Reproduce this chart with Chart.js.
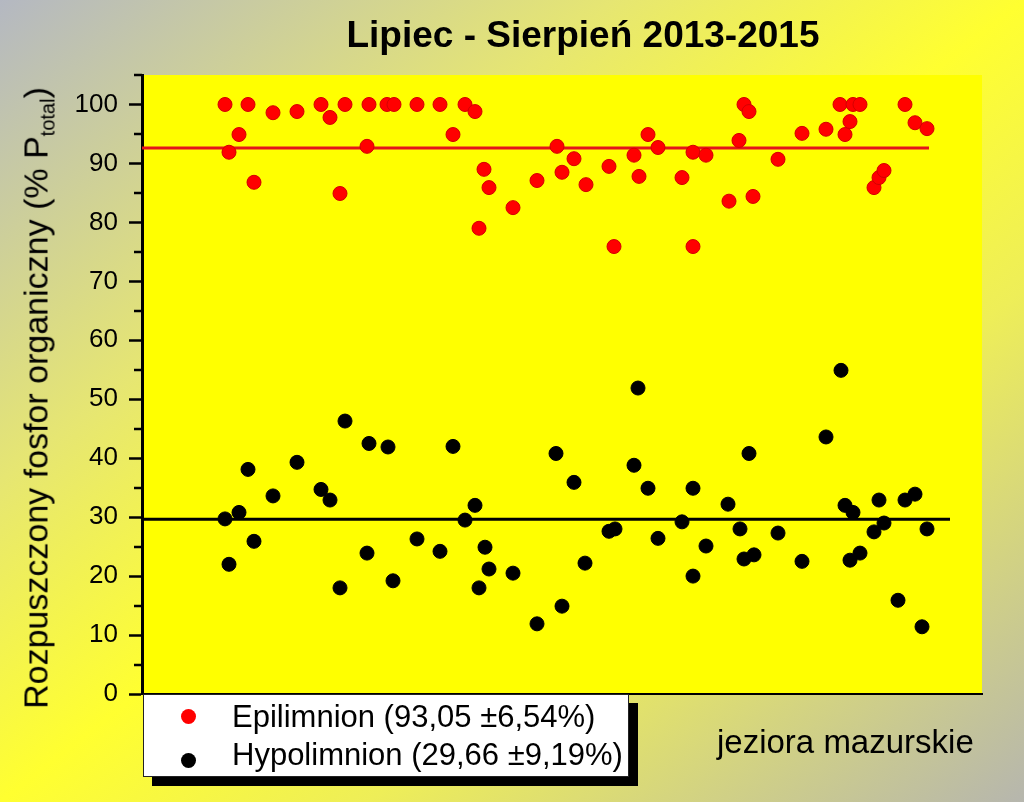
<!DOCTYPE html>
<html>
<head>
<meta charset="utf-8">
<script src="https://cdn.jsdelivr.net/npm/chart.js@4.4.1/dist/chart.umd.min.js"></script>
<style>
html, body { margin: 0; padding: 0; }
body {
    width: 1024px; height: 802px; overflow: hidden;
    background: linear-gradient(to bottom right, #b4b8c2 0%, #e6e672 30%, #ffff30 50%, #eeee58 68%, #b6b6ae 100%);
    font-family: "Liberation Sans", Arial, sans-serif;
}
#wrap { position: relative; width: 1024px; height: 802px; }
#chart { position: absolute; left: 0; top: 0; }
.title { position: absolute; left: 0; width: 1166px; top: 16px; text-align: center; font-weight: bold; font-size: 37px; line-height: 1; color: #000; }
.ytitle { position: absolute; left: 38px; top: 398px; transform: translate(-50%, -50%) rotate(-90deg); white-space: nowrap; font-size: 34px; line-height: 1; color: #000; }
.ytitle sub { font-size: 20px; vertical-align: -7px; }
.legend { position: absolute; left: 143px; top: 694px; width: 484px; height: 81px; background: #fff; border: 1px solid #222; box-shadow: 9px 9px 0 #000; }
.legend .row { position: absolute; left: 0; font-size: 31px; line-height: 1; white-space: nowrap; color: #000; }
.legend .dot { position: absolute; width: 15px; height: 15px; border-radius: 50%; }
.note { position: absolute; left: 717px; top: 725px; font-size: 33px; line-height: 1; color: #000; white-space: nowrap; }
</style>
</head>
<body>
<div id="wrap">
    <canvas id="chart" width="1024" height="802"></canvas>
    <div class="title">Lipiec - Sierpień 2013-2015</div>
    <div class="ytitle">Rozpuszczony fosfor organiczny (% P<sub>total</sub>)</div>
    <div class="legend" id="legend"></div>
    <div class="note">jeziora mazurskie</div>
</div>
<script>
// ---- data (x = lake position along the axis, y = % of total P) ----
var seriesNames = ['Epilimnion (93,05 ±6,54%)', 'Hypolimnion (29,66 ±9,19%)'];
var seriesColors = ['#ff0000', '#000000'];

var epiX = [8.3, 8.7, 9.7, 10.6, 11.2, 13.1, 15.5, 17.9, 18.8, 19.8, 20.3, 22.5, 22.7, 24.5, 25.2, 27.5, 29.8, 31.1, 32.3, 33.3,
            33.7, 34.2, 34.7, 37.1, 39.5, 41.5, 42.0, 43.2, 44.4, 46.7, 47.2, 49.2, 49.7, 50.6, 51.6, 54.0, 55.1, 55.1, 56.4, 58.7,
            59.7, 60.2, 60.7, 61.1, 63.6, 66.0, 68.4, 69.8, 70.3, 70.8, 71.1, 71.8, 73.2, 73.7, 74.2, 76.3, 77.3, 78.5];
var epiY = [100, 91.9, 94.9, 100, 86.8, 98.6, 98.8, 100, 97.8, 84.9, 100, 92.9, 100, 100, 100, 100, 100, 94.9, 100, 98.8,
            79.0, 89.0, 85.9, 82.5, 87.1, 92.9, 88.5, 90.8, 86.4, 89.5, 75.9, 91.4, 87.8, 94.9, 92.7, 87.6, 91.9, 75.9, 91.4, 83.6,
            93.9, 100, 98.8, 84.4, 90.7, 95.1, 95.8, 100, 94.9, 97.1, 100, 100, 85.9, 87.6, 88.8, 100, 96.9, 95.9];

var hypoX = [8.3, 8.7, 9.7, 10.6, 11.2, 13.1, 15.5, 17.9, 18.8, 19.8, 20.3, 22.5, 22.7, 24.6, 25.1, 27.5, 29.8, 31.1, 32.3, 33.3,
             33.7, 34.3, 34.7, 37.1, 39.5, 41.4, 42.0, 43.2, 44.3, 46.7, 47.3, 49.2, 49.6, 50.6, 51.6, 54.0, 55.1, 55.1, 56.4, 58.6,
             59.8, 60.2, 60.7, 61.2, 63.6, 66.0, 68.4, 69.9, 70.3, 70.8, 71.1, 71.8, 73.2, 73.7, 74.2, 75.6, 76.3, 77.3, 78.0, 78.5];
var hypoY = [29.7, 22.0, 30.8, 38.1, 25.9, 33.6, 39.3, 34.7, 32.9, 18.0, 46.3, 23.9, 42.5, 41.9, 19.2, 26.3, 24.2, 42.0, 29.5, 32.0,
             18.0, 24.9, 21.2, 20.5, 11.9, 40.8, 14.9, 35.9, 22.2, 27.6, 28.0, 38.8, 51.9, 34.9, 26.4, 29.2, 34.9, 20.0, 25.1, 32.2,
             28.0, 22.9, 40.8, 23.6, 27.3, 22.5, 43.6, 54.9, 32.0, 22.7, 30.8, 23.9, 27.5, 32.9, 29.0, 15.9, 32.9, 33.9, 11.4, 28.0];

// mean lines: [start x, end x] and level
var epiMeanX = [0, 78.7];
var epiMean = 92.6;
var hypoMeanX = [0, 80.8];
var hypoMean = 29.66;

var yMin = 0, yMax = 105, yStep = 5;

function toPoints(xs, ys) {
    return xs.map(function(x, i) { return { x: x, y: ys[i] }; });
}

var plotBg = {
    id: 'plotBg',
    beforeDraw: function(chart) {
        var a = chart.chartArea, ctx = chart.ctx;
        ctx.save();
        ctx.fillStyle = '#ffff00';
        ctx.fillRect(a.left, a.top, a.right - a.left, a.bottom - a.top);
        ctx.restore();
    }
};

// short minor ticks on the y axis (every 5 units)
var minorTicks = {
    id: 'minorTicks',
    afterDraw: function(chart) {
        var s = chart.scales.y, ctx = chart.ctx, left = chart.chartArea.left;
        ctx.save();
        ctx.strokeStyle = '#000';
        ctx.lineWidth = 2.5;
        s.ticks.forEach(function(t) {
            if (t.value % 10 === 0) return;
            var py = Math.round(s.getPixelForValue(t.value));
            ctx.beginPath();
            ctx.moveTo(left - 8, py);
            ctx.lineTo(left, py);
            ctx.stroke();
        });
        ctx.restore();
    }
};

var chart = new Chart(document.getElementById('chart'), {
    type: 'scatter',
    data: {
        datasets: [
            { label: seriesNames[0], data: toPoints(epiX, epiY), backgroundColor: seriesColors[0], borderColor: '#d40000', borderWidth: 1, pointRadius: 7, pointHoverRadius: 7, order: 1 },
            { label: seriesNames[1], data: toPoints(hypoX, hypoY), backgroundColor: seriesColors[1], borderColor: '#000', borderWidth: 1, pointRadius: 7, pointHoverRadius: 7, order: 1 },
            { label: 'mean epi', type: 'line', data: toPoints(epiMeanX, [epiMean, epiMean]), borderColor: '#e4141a', borderWidth: 3, pointRadius: 0, fill: false, order: 2 },
            { label: 'mean hypo', type: 'line', data: toPoints(hypoMeanX, [hypoMean, hypoMean]), borderColor: '#000', borderWidth: 3, pointRadius: 0, fill: false, order: 2 }
        ]
    },
    options: {
        responsive: false,
        animation: false,
        events: [],
        layout: { padding: { left: 0, top: 75, right: 42, bottom: 108 } },
        plugins: { legend: { display: false }, title: { display: false }, tooltip: { enabled: false } },
        scales: {
            x: {
                type: 'linear', min: 0, max: 84,
                afterFit: function(s) { s.height = 0; },
                ticks: { display: false },
                grid: { display: false, drawTicks: false },
                border: { display: true, color: '#000', width: 2 }
            },
            y: {
                type: 'linear', min: yMin, max: yMax,
                afterFit: function(s) { s.width = 142; },
                border: { display: true, color: '#000', width: 3 },
                grid: {
                    drawOnChartArea: false, tickLength: 13, tickWidth: 2.5,
                    tickColor: function(c) { return c.tick && c.tick.value % 10 === 0 ? '#000' : 'rgba(0,0,0,0)'; }
                },
                ticks: {
                    stepSize: yStep, autoSkip: false, padding: 11, color: '#000',
                    font: { family: '"Liberation Sans", Arial, sans-serif', size: 26 },
                    callback: function(v) { return v % 10 === 0 ? String(v) : ''; }
                }
            }
        }
    },
    plugins: [plotBg, minorTicks]
});

// legend box, built from the two point datasets
var legendEl = document.getElementById('legend');
var rowTops = [6, 44];
var dotTops = [14, 58];
chart.data.datasets.slice(0, 2).forEach(function(ds, i) {
    var dot = document.createElement('div');
    dot.className = 'dot';
    dot.style.left = '37px';
    dot.style.top = dotTops[i] + 'px';
    dot.style.background = ds.backgroundColor;
    legendEl.appendChild(dot);
    var row = document.createElement('div');
    row.className = 'row';
    row.style.left = '88px';
    row.style.top = rowTops[i] + 'px';
    row.textContent = ds.label;
    legendEl.appendChild(row);
});
</script>
</body>
</html>
